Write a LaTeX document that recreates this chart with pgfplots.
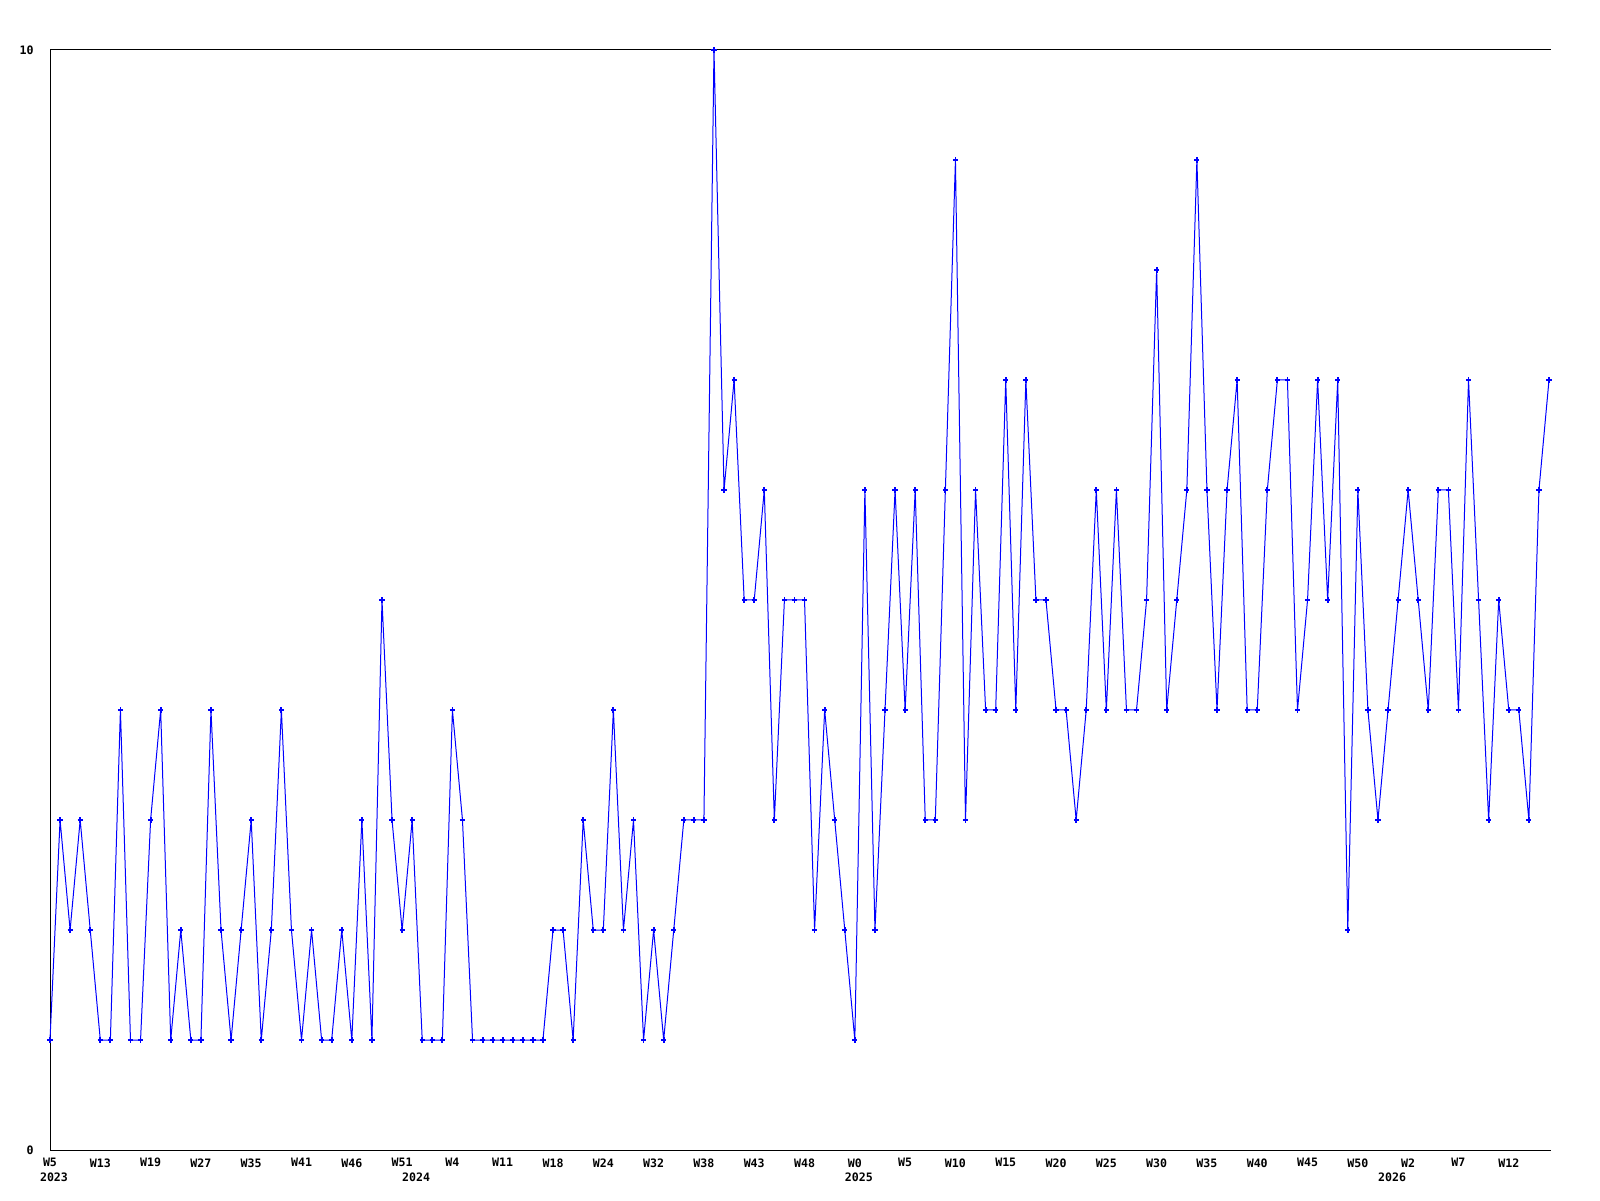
\documentclass[border=0pt]{standalone}
\usepackage{pgfplots}
\pgfplotsset{compat=1.18}
\usepackage{pgfplotstable}
\usepackage{fontspec}
\setmainfont{DejaVu Sans Mono}
\definecolor{lineblue}{RGB}{0,0,255}

\pgfplotstableread{
x y
0 1
1 3
2 2
3 3
4 2
5 1
6 1
7 4
8 1
9 1
10 3
11 4
12 1
13 2
14 1
15 1
16 4
17 2
18 1
19 2
20 3
21 1
22 2
23 4
24 2
25 1
26 2
27 1
28 1
29 2
30 1
31 3
32 1
33 5
34 3
35 2
36 3
37 1
38 1
39 1
40 4
41 3
42 1
43 1
44 1
45 1
46 1
47 1
48 1
49 1
50 2
51 2
52 1
53 3
54 2
55 2
56 4
57 2
58 3
59 1
60 2
61 1
62 2
63 3
64 3
65 3
66 10
67 6
68 7
69 5
70 5
71 6
72 3
73 5
74 5
75 5
76 2
77 4
78 3
79 2
80 1
81 6
82 2
83 4
84 6
85 4
86 6
87 3
88 3
89 6
90 9
91 3
92 6
93 4
94 4
95 7
96 4
97 7
98 5
99 5
100 4
101 4
102 3
103 4
104 6
105 4
106 6
107 4
108 4
109 5
110 8
111 4
112 5
113 6
114 9
115 6
116 4
117 6
118 7
119 4
120 4
121 6
122 7
123 7
124 4
125 5
126 7
127 5
128 7
129 2
130 6
131 4
132 3
133 4
134 5
135 6
136 5
137 4
138 6
139 6
140 4
141 7
142 5
143 3
144 5
145 4
146 4
147 3
148 6
149 7
}\datatable

\begin{document}
\begin{tikzpicture}
\path[use as bounding box] (0,0) rectangle (800pt,600pt);
\begin{axis}[
  at={(25pt,25pt)}, anchor=south west,
  scale only axis, width=750.5pt, height=550pt,
  xmin=0, xmax=149.2, ymin=0, ymax=10,
  axis lines*=left,
  axis line style={line width=0.5pt, black},
  clip=false,
  major tick length=0pt,
  xtick={0,5,...,145},
  xticklabels={W5,W13,W19,W27,W35,W41,W46,W51,W4,W11,W18,W24,W32,W38,W43,W48,W0,W5,W10,W15,W20,W25,W30,W35,W40,W45,W50,W2,W7,W12},
  ytick={0,10},
  yticklabels={0,10},
  tick label style={font=\fontsize{5.8}{6}\selectfont\bfseries},
  xticklabel style={anchor=north, inner sep=0pt, yshift=-4pt},
  yticklabel style={anchor=east, inner sep=0pt, xshift=-8pt},
  extra x ticks={0,36,80,133},
  extra x tick labels={2023,2024,2025,2026},
  extra x tick style={xticklabel style={yshift=-7pt, xshift=2pt}},
]
\addplot[color=lineblue, line width=0.5pt, mark=+, mark size=1.3pt,
  mark options={line width=0.9pt}] table[x=x,y=y] {\datatable};
\draw[line width=0.5pt, black] (rel axis cs:0,1) -- (rel axis cs:1,1);
\end{axis}
\end{tikzpicture}
\end{document}
